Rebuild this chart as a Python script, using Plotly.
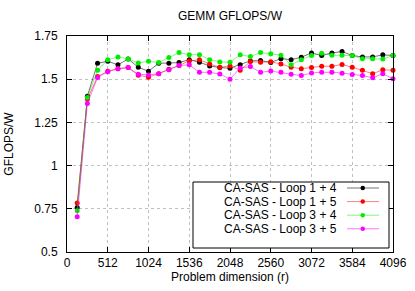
import plotly.graph_objects as go

problem_dim = [128 * k for k in range(1, 33)]

loop_1_4 = [0.758, 1.402, 1.592, 1.604, 1.583, 1.617, 1.569, 1.546, 1.592, 1.592, 1.596, 1.613,
            1.598, 1.577, 1.567, 1.564, 1.583, 1.606, 1.608, 1.597, 1.619, 1.613, 1.627, 1.652,
            1.637, 1.652, 1.660, 1.637, 1.629, 1.629, 1.641, 1.637]
loop_1_5 = [0.783, 1.384, 1.515, 1.546, 1.561, 1.567, 1.523, 1.512, 1.532, 1.558, 1.579, 1.606,
            1.612, 1.588, 1.569, 1.577, 1.552, 1.602, 1.598, 1.601, 1.588, 1.569, 1.561, 1.567,
            1.575, 1.575, 1.585, 1.569, 1.552, 1.532, 1.554, 1.552]
loop_3_4 = [0.739, 1.394, 1.552, 1.612, 1.629, 1.617, 1.594, 1.604, 1.596, 1.625, 1.654, 1.642,
            1.642, 1.613, 1.600, 1.598, 1.641, 1.631, 1.654, 1.647, 1.639, 1.583, 1.613, 1.637,
            1.650, 1.639, 1.639, 1.637, 1.619, 1.619, 1.617, 1.637]
loop_3_5 = [0.704, 1.359, 1.510, 1.543, 1.561, 1.567, 1.529, 1.525, 1.532, 1.554, 1.579, 1.583,
            1.540, 1.540, 1.530, 1.500, 1.565, 1.573, 1.540, 1.547, 1.540, 1.529, 1.521, 1.536,
            1.540, 1.540, 1.535, 1.527, 1.521, 1.508, 1.532, 1.502]

series_names = ["CA-SAS - Loop 1 + 4", "CA-SAS - Loop 1 + 5", "CA-SAS - Loop 3 + 4", "CA-SAS - Loop 3 + 5"]
series_values = [loop_1_4, loop_1_5, loop_3_4, loop_3_5]
marker_colors = ["#000000", "#ff0000", "#00ee00", "#ff00ff"]
line_colors = ["rgba(0,0,0,0.55)", "rgba(255,0,0,0.5)", "rgba(0,238,0,0.5)", "rgba(255,0,255,0.55)"]

x_ticks = [0, 512, 1024, 1536, 2048, 2560, 3072, 3584, 4096]
y_ticks = [0.5, 0.75, 1.0, 1.25, 1.5, 1.75]
y_tick_labels = ["0.5", "0.75", "1", "1.25", "1.5", "1.75"]

FONT = "Liberation Sans, Arial, sans-serif"
W, H = 415, 291
# plot box in screen pixels: left 67, right 393, top 36, bottom 252
ML, MR, MT, MB = 67, 415 - 393, 36, 291 - 252
PW, PH = W - ML - MR, H - MT - MB


def px(xs):
    return (xs - ML) / PW


def py(ys):
    return (H - MB - ys) / PH


fig = go.Figure()
for name, vals, mc, lc in zip(series_names, series_values, marker_colors, line_colors):
    fig.add_trace(go.Scatter(
        x=problem_dim, y=vals, mode="lines+markers", name=name,
        line=dict(color=lc, width=1),
        marker=dict(color=mc, size=5, symbol="circle", line=dict(width=0)),
        showlegend=False, cliponaxis=False,
    ))

# Manual gnuplot-style legend (text left, sample right)
shapes = [dict(type="rect", xref="paper", yref="paper",
               x0=px(193), x1=px(389), y0=py(248), y1=py(182),
               line=dict(color="#000000", width=1), fillcolor="white", layer="above")]
annotations = []
row_y = [188.0, 201.6, 215.2, 228.8]
for name, mc, lc, ry in zip(series_names, marker_colors, line_colors, row_y):
    annotations.append(dict(xref="paper", yref="paper", x=px(338), y=py(ry),
                            xanchor="right", yanchor="middle", text=name, showarrow=False,
                            borderpad=0,
                            font=dict(family=FONT, size=12, color="#000000")))
    shapes.append(dict(type="line", xref="paper", yref="paper",
                       x0=px(347), x1=px(379), y0=py(ry), y1=py(ry),
                       line=dict(color=lc, width=1), layer="above"))
    shapes.append(dict(type="circle", xref="paper", yref="paper",
                       x0=px(360.5), x1=px(365), y0=py(ry + 2.25), y1=py(ry - 2.25),
                       line=dict(width=0), fillcolor=mc, layer="above"))

fig.update_layout(
    width=W, height=H,
    margin=dict(l=ML, r=MR, t=MT, b=MB, pad=0, autoexpand=False),
    paper_bgcolor="white", plot_bgcolor="white",
    font=dict(family=FONT, size=12, color="#000000"),
    hovermode=False,
    title=dict(text="GEMM GFLOPS/W", x=px(230), xref="paper", xanchor="center",
               yref="container", y=1 - 16 / H, yanchor="middle",
               font=dict(family=FONT, size=12)),
    shapes=shapes, annotations=annotations,
    xaxis=dict(range=[0, 4096], tickvals=x_ticks, ticktext=[str(t) for t in x_ticks],
               ticks="inside", ticklen=5, tickcolor="#000000", tickwidth=1,
               showline=True, linecolor="#000000", linewidth=1, mirror="allticks",
               showgrid=True, gridcolor="#c0c0c0", griddash="dot", gridwidth=1,
               zeroline=False, ticklabelstandoff=0, automargin=False,
               title=dict(text="Problem dimension (r)", standoff=0,
                          font=dict(family=FONT, size=12))),
    yaxis=dict(range=[0.5, 1.75], tickvals=y_ticks, ticktext=y_tick_labels,
               ticks="inside", ticklen=5, tickcolor="#000000", tickwidth=1,
               showline=True, linecolor="#000000", linewidth=1, mirror="allticks",
               showgrid=True, gridcolor="#c0c0c0", griddash="dot", gridwidth=1,
               zeroline=False, ticklabelstandoff=6, automargin=False,
               title=dict(text="GFLOPS/W", standoff=18,
                          font=dict(family=FONT, size=12))),
)

fig.write_html("out.html",
               config={"displayModeBar": False, "staticPlot": True},
               post_script="document.body.style.margin='0';document.body.style.overflow='hidden';")
